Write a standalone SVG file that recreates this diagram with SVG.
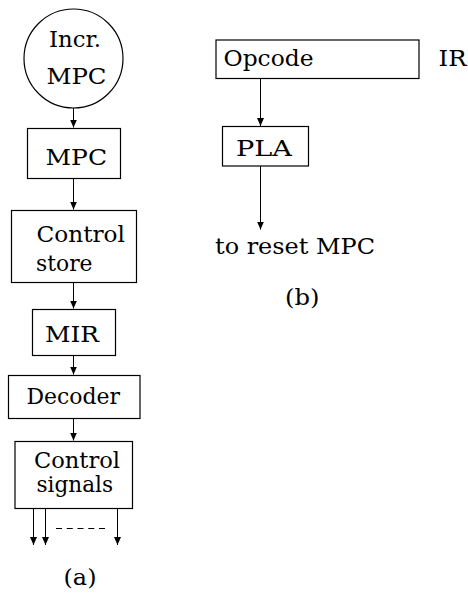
<svg xmlns="http://www.w3.org/2000/svg" width="468" height="593" viewBox="0 0 468 593">
  <style>
    .box { fill: none; stroke: #000; stroke-width: 1.2; }
    .wire { fill: none; stroke: #000; stroke-width: 1; }
    .lbl { font-family: "DejaVu Serif", "Liberation Serif", serif; font-size: 23px; fill: #000; }
  </style>
  <defs>
    <marker id="arrow" viewBox="0 0 8 10" refX="8" refY="5" markerWidth="8" markerHeight="10" markerUnits="userSpaceOnUse" orient="auto">
      <path d="M0,1.5 L8,5 L0,8.5 Z" fill="#000"/>
    </marker>
  </defs>

  <!-- (a) microprogram sequencing chain -->
  <g id="incr-mpc">
    <circle class="box" cx="73.5" cy="58.5" r="49.5"/>
    <text class="lbl" x="49" y="47" textLength="52" lengthAdjust="spacingAndGlyphs">Incr.</text>
    <text class="lbl" x="46.5" y="83.5" textLength="60" lengthAdjust="spacingAndGlyphs">MPC</text>
  </g>
  <g id="mpc">
    <rect class="box" x="27.5" y="128.5" width="93" height="50"/>
    <text class="lbl" x="45.5" y="164.5" textLength="61.5" lengthAdjust="spacingAndGlyphs">MPC</text>
  </g>
  <g id="control-store">
    <rect class="box" x="11.5" y="210.5" width="125" height="72"/>
    <text class="lbl" x="36.5" y="241.5" textLength="88.5" lengthAdjust="spacingAndGlyphs">Control</text>
    <text class="lbl" x="36" y="271" textLength="56.5" lengthAdjust="spacingAndGlyphs">store</text>
  </g>
  <g id="mir">
    <rect class="box" x="32.5" y="309.5" width="83" height="46"/>
    <text class="lbl" x="45" y="341.5" textLength="54" lengthAdjust="spacingAndGlyphs">MIR</text>
  </g>
  <g id="decoder">
    <rect class="box" x="8.5" y="375.5" width="131.5" height="43"/>
    <text class="lbl" x="26.5" y="404" textLength="93.5" lengthAdjust="spacingAndGlyphs">Decoder</text>
  </g>
  <g id="control-signals">
    <rect class="box" x="15" y="441.5" width="117.5" height="67"/>
    <text class="lbl" x="34" y="467.5" textLength="86" lengthAdjust="spacingAndGlyphs">Control</text>
    <text class="lbl" x="36.5" y="491.5" textLength="76.5" lengthAdjust="spacingAndGlyphs">signals</text>
  </g>
  <g id="caption-a">
    <text class="lbl" x="63.5" y="584.5" textLength="33" lengthAdjust="spacingAndGlyphs">(a)</text>
  </g>

  <!-- (b) opcode decoding -->
  <g id="opcode">
    <rect class="box" x="216" y="40" width="203" height="38.5"/>
    <text class="lbl" x="223.5" y="66" textLength="90" lengthAdjust="spacingAndGlyphs">Opcode</text>
  </g>
  <g id="ir">
    <text class="lbl" x="438.5" y="66" textLength="28" lengthAdjust="spacingAndGlyphs">IR</text>
  </g>
  <g id="pla">
    <rect class="box" x="222.5" y="126.5" width="86" height="39.5"/>
    <text class="lbl" x="236" y="156" textLength="56" lengthAdjust="spacingAndGlyphs">PLA</text>
  </g>
  <g id="reset-target">
    <text class="lbl" x="215" y="253.5" textLength="160" lengthAdjust="spacingAndGlyphs">to reset MPC</text>
  </g>
  <g id="caption-b">
    <text class="lbl" x="285" y="305" textLength="34.5" lengthAdjust="spacingAndGlyphs">(b)</text>
  </g>

  <!-- connectors -->
  <g id="connectors">
    <line class="wire" x1="73.5" y1="108" x2="73.5" y2="127.5" marker-end="url(#arrow)"/>
    <line class="wire" x1="73.5" y1="178.5" x2="73.5" y2="209.5" marker-end="url(#arrow)"/>
    <line class="wire" x1="73.5" y1="282.5" x2="73.5" y2="308.5" marker-end="url(#arrow)"/>
    <line class="wire" x1="73.5" y1="355.5" x2="73.5" y2="374.5" marker-end="url(#arrow)"/>
    <line class="wire" x1="73.5" y1="418.5" x2="73.5" y2="440.5" marker-end="url(#arrow)"/>
    <line class="wire" x1="33.5" y1="508.5" x2="33.5" y2="545" marker-end="url(#arrow)"/>
    <line class="wire" x1="45.5" y1="508.5" x2="45.5" y2="545" marker-end="url(#arrow)"/>
    <line class="wire" x1="117.5" y1="508.5" x2="117.5" y2="545" marker-end="url(#arrow)"/>
    <line class="wire" x1="56" y1="528.5" x2="105" y2="528.5" stroke-dasharray="6 4.75"/>
    <line class="wire" x1="260.5" y1="78.5" x2="260.5" y2="126" marker-end="url(#arrow)"/>
    <line class="wire" x1="260.5" y1="166" x2="260.5" y2="229.5" marker-end="url(#arrow)"/>
  </g>
</svg>
